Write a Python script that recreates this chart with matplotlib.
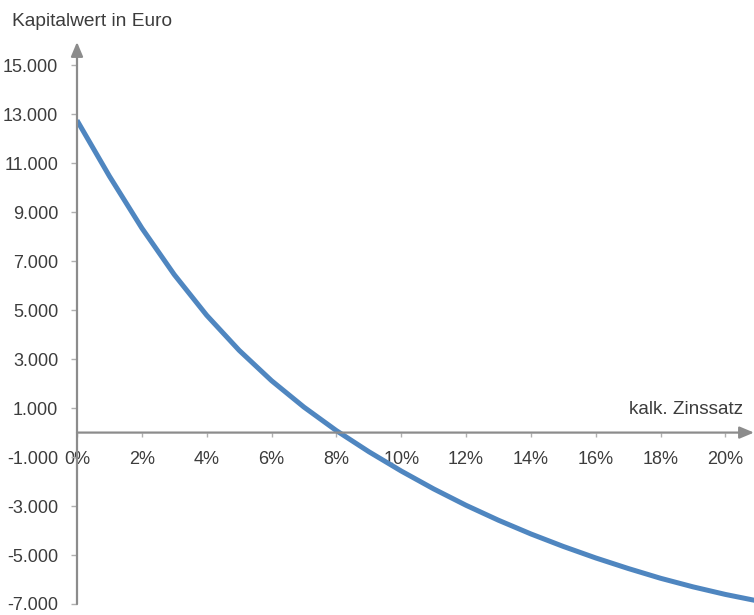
import matplotlib.pyplot as plt

# Kapitalwert (Euro) je kalkulatorischem Zinssatz (%)
zinssatz = [0, 1, 2, 3, 4, 5, 6, 7, 8, 9, 10, 11, 12, 13, 14, 15, 16, 17, 18, 19, 20, 20.9]
kapitalwert = [12750, 10470, 8350, 6450, 4790, 3360, 2120, 1040, 80, -780, -1570,
               -2300, -2970, -3580, -4140, -4650, -5120, -5550, -5950, -6300, -6610, -6850]

y_ticks = [15000, 13000, 11000, 9000, 7000, 5000, 3000, 1000, -1000, -3000, -5000, -7000]
x_ticks = [0, 2, 4, 6, 8, 10, 12, 14, 16, 18, 20]

plt.rcParams['font.family'] = ['Liberation Sans', 'DejaVu Sans']
text_col = '#3c3c3c'
axis_col = '#8c8c8c'

fig = plt.figure(figsize=(7.54, 6.15), dpi=100)
ax = fig.add_axes([77 / 754, 11 / 615, 1 - 77 / 754, (604 - 42) / 615])

ax.plot(zinssatz, kapitalwert, color='#4f86c0', lw=3.6, solid_capstyle='butt',
        solid_joinstyle='round', zorder=3)

ax.set_xlim(0, 20.88)
ax.set_ylim(-7000, 15950)

for s in ax.spines.values():
    s.set_visible(False)
ax.spines['bottom'].set_position(('data', 0))

# Achsen mit Pfeilen
pfeil = dict(arrowstyle='-|>,head_length=0.86,head_width=0.36', color=axis_col,
             lw=1.6, shrinkA=0, shrinkB=0, mutation_scale=10)
ax.annotate('', xy=(1.0, 0), xytext=(0, 0), xycoords=ax.get_yaxis_transform(),
            textcoords=ax.get_yaxis_transform(), arrowprops=pfeil,
            annotation_clip=False)
ax.annotate('', xy=(0, 1.0), xytext=(0, 0), xycoords='axes fraction',
            textcoords='axes fraction', arrowprops=pfeil, annotation_clip=False)

ax.set_yticks(y_ticks)
ax.set_yticklabels([f"{v:,}".replace(',', '.') for v in y_ticks])
ax.set_xticks(x_ticks)
ax.set_xticklabels([f"{v}%" for v in x_ticks])

ax.tick_params(axis='y', direction='out', length=4, width=1, color='#b0b0b0',
               pad=9.5, labelsize=13, labelcolor=text_col)
ax.tick_params(axis='x', direction='out', length=3, width=1, color='#b0b0b0',
               pad=10.5, labelsize=13, labelcolor=text_col)

fig.text(12 / 754, 1 - 22 / 615, 'Kapitalwert in Euro', fontsize=13.8,
         color=text_col, va='center', ha='left')
fig.text(743 / 754, 1 - 414 / 615, 'kalk. Zinssatz', fontsize=13.7,
         color=text_col, va='baseline', ha='right')

fig.savefig('out.png', dpi=100)
